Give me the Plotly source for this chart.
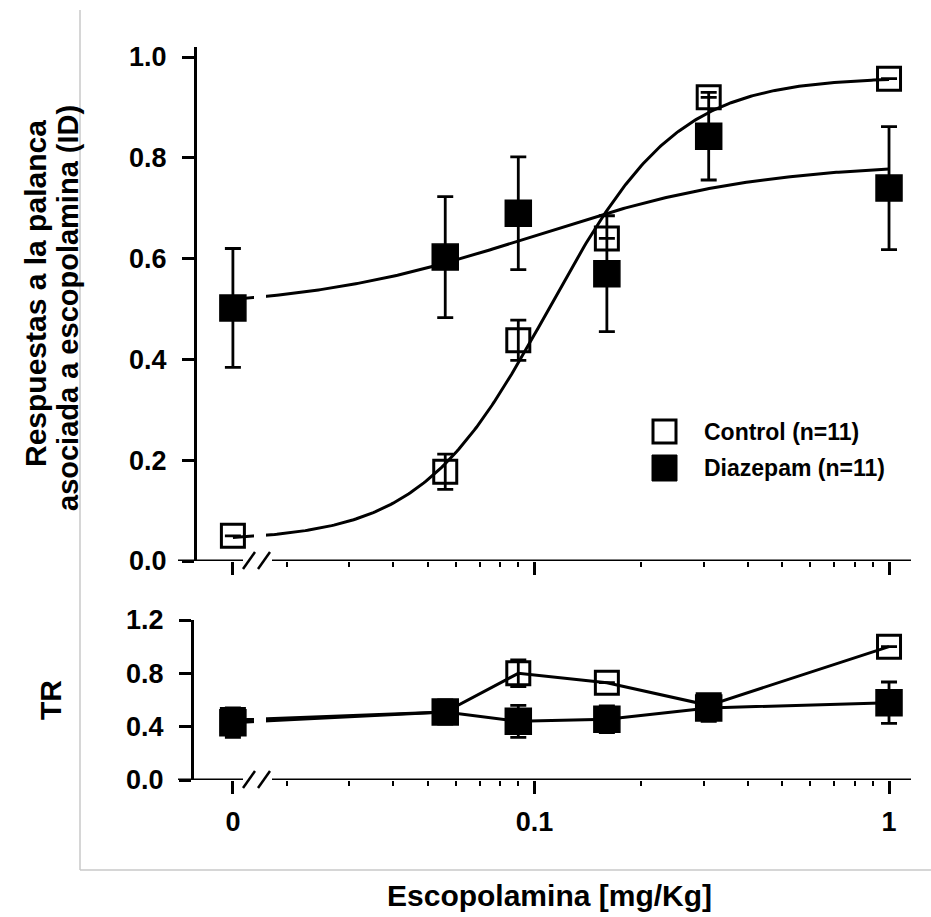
import numpy as np
import plotly.graph_objects as go

# ---------------- data ----------------
doses = [0, 0.056, 0.09, 0.16, 0.31, 1.0]          # mg/Kg
zero_pos = 0.0141                                   # where the "0" dose sits on the log axis

ctrl_id = [0.05, 0.177, 0.438, 0.64, 0.92, 0.957]
ctrl_id_err = [0.0, 0.035, 0.04, 0.0, 0.0, 0.0]
diaz_id = [0.502, 0.603, 0.69, 0.57, 0.843, 0.74]
diaz_id_err = [0.118, 0.12, 0.112, 0.115, 0.087, 0.122]

ctrl_tr = [0.45, 0.51, 0.80, 0.73, 0.56, 1.0]
ctrl_tr_err = [0.0, 0.0, 0.10, 0.0, 0.0, 0.0]
diaz_tr = [0.43, 0.51, 0.44, 0.455, 0.54, 0.58]
diaz_tr_err = [0.11, 0.09, 0.12, 0.1, 0.1, 0.155]

# four-parameter logistic fits (bottom, top, logEC50, hill)
ctrl_fit = (0.04, 0.96, -0.96, 2.4)
diaz_fit = (0.50, 0.79, -1.002, 1.357)

x_tickvals = [zero_pos, 0.1, 1]
x_ticktext = ["0", "0.1", "1"]
x_minor = [0.02, 0.03, 0.04, 0.05, 0.06, 0.07, 0.08, 0.09,
           0.2, 0.3, 0.4, 0.5, 0.6, 0.7, 0.8, 0.9]

names = ["Control (n=11)", "Diazepam (n=11)"]

# ---------------- geometry helpers ----------------
W, H = 931, 917
ML, MR, MT, MB = 180, 20, 47, 137
PW, PH = W - ML - MR, H - MT - MB


def px(xp):
    return (xp - ML) / PW


def py(yp):
    return (H - MB - yp) / PH


xplot = [zero_pos if d == 0 else d for d in doses]


def logistic(p, x):
    b, t, lec, h = p
    return b + (t - b) / (1 + 10 ** ((lec - np.log10(x)) * h))


xc = np.logspace(np.log10(zero_pos), 0, 300)

fig = go.Figure()
font_fam = "Liberation Sans, Arial, sans-serif"
LW = 3
OPEN = dict(symbol="square-open", size=23, color="black", line=dict(width=3, color="black"))
FILL = dict(symbol="square", size=26, color="black", line=dict(width=1.5, color="black"))


def err(arr):
    return dict(type="data", array=arr, color="black", thickness=2.8, width=8)


for p in (ctrl_fit, diaz_fit):
    fig.add_trace(go.Scatter(x=xc, y=logistic(p, xc), mode="lines",
                             line=dict(color="black", width=LW),
                             xaxis="x", yaxis="y", showlegend=False, hoverinfo="skip"))

fig.add_trace(go.Scatter(x=xplot, y=ctrl_id, mode="markers", name=names[0],
                         marker=OPEN, error_y=err(ctrl_id_err),
                         xaxis="x", yaxis="y", showlegend=False))
fig.add_trace(go.Scatter(x=xplot, y=diaz_id, mode="markers", name=names[1],
                         marker=FILL, error_y=err(diaz_id_err),
                         xaxis="x", yaxis="y", showlegend=False))

fig.add_trace(go.Scatter(x=xplot, y=ctrl_tr, mode="lines+markers", name=names[0],
                         line=dict(color="black", width=LW),
                         marker=OPEN, error_y=err(ctrl_tr_err),
                         xaxis="x2", yaxis="y2", showlegend=False))
fig.add_trace(go.Scatter(x=xplot, y=diaz_tr, mode="lines+markers", name=names[1],
                         line=dict(color="black", width=LW),
                         marker=FILL, error_y=err(diaz_tr_err),
                         xaxis="x2", yaxis="y2", showlegend=False))

tickfont = dict(family=font_fam, size=27, color="black", weight="bold")
xrange = [-2.0, 0.062]

common_x = dict(type="log", range=xrange, tickmode="array", tickvals=x_tickvals,
                ticktext=x_ticktext, ticks="outside", ticklen=13, tickwidth=3,
                tickcolor="black", showline=False, showgrid=False, zeroline=False,
                minor=dict(tickmode="array", tickvals=x_minor, ticks="outside",
                           ticklen=5, tickwidth=2, tickcolor="black", showgrid=False),
                tickfont=tickfont)

common_y = dict(ticks="outside", ticklen=12, tickwidth=3, tickcolor="black",
                showline=True, linewidth=3, linecolor="black", showgrid=False,
                zeroline=False, tickfont=tickfont, tickformat=".1f", anchor="free",
                ticklabelstandoff=10)

top_bottom = py(561)
fig.update_layout(
    width=W, height=H,
    margin=dict(l=ML, r=MR, t=MT, b=MB),
    paper_bgcolor="white", plot_bgcolor="white",
    showlegend=False,
    xaxis=dict(common_x, anchor="y", domain=[0, 1], showticklabels=False),
    yaxis=dict(common_y, domain=[top_bottom, 1], range=[0, (561 - 47) / 504],
               tickvals=[0, 0.2, 0.4, 0.6, 0.8, 1.0], position=px(195)),
    xaxis2=dict(common_x, anchor="y2", domain=[0, 1], ticklabelstandoff=5),
    yaxis2=dict(common_y, domain=[0, py(620)], range=[0, 1.2],
                tickvals=[0, 0.4, 0.8, 1.2], position=px(192)),
)

shapes = []
# white gap for the axis break in the data area
for (y0, y1) in [(top_bottom, 1), (0, py(620))]:
    shapes.append(dict(type="rect", xref="paper", yref="paper",
                       x0=px(254), x1=px(266), y0=y0, y1=y1,
                       fillcolor="white", line=dict(width=0), layer="above"))
# broken x axis lines + slashes
for (yr, ypix) in [("y", 561), ("y2", 780)]:
    for (a, b) in [(178, 243), (272, 911)]:
        shapes.append(dict(type="line", xref="paper", yref=yr, x0=px(a), x1=px(b),
                           y0=0, y1=0, line=dict(color="black", width=3), layer="above"))
    for x0 in (243, 258):
        shapes.append(dict(type="line", xref="paper", yref="paper",
                           x0=px(x0), x1=px(x0 + 12), y0=py(ypix + 8), y1=py(ypix - 9),
                           line=dict(color="black", width=2.5), layer="above"))
# legend symbols
shapes.append(dict(type="rect", xref="paper", yref="paper",
                   x0=px(653), x1=px(676), y0=py(443), y1=py(420),
                   line=dict(color="black", width=3), fillcolor="white", layer="above"))
shapes.append(dict(type="rect", xref="paper", yref="paper",
                   x0=px(652), x1=px(677), y0=py(481), y1=py(455),
                   line=dict(color="black", width=1), fillcolor="black", layer="above"))
# light gray frame (left + bottom)
shapes.append(dict(type="line", xref="paper", yref="paper", x0=px(80), x1=px(80),
                   y0=py(10), y1=py(870), line=dict(color="#c8c8c8", width=1.5)))
shapes.append(dict(type="line", xref="paper", yref="paper", x0=px(80), x1=px(931),
                   y0=py(870), y1=py(870), line=dict(color="#c8c8c8", width=1.5)))
fig.update_layout(shapes=shapes)

tfont = dict(family=font_fam, size=30, color="black", weight="bold")
tfont2 = dict(family=font_fam, size=29, color="black", weight="bold")
lfont = dict(family=font_fam, size=23, color="black", weight="bold")
ann = [
    dict(text="Respuestas a la palanca", x=px(35), y=py(294), textangle=-90, font=tfont),
    dict(text="asociada a escopolamina (ID)", x=px(68), y=py(308), textangle=-90, font=tfont2),
    dict(text="TR", x=px(50), y=py(700), textangle=-90, font=tfont),
    dict(text="Escopolamina [mg/Kg]", x=px(549), y=py(895), font=tfont),
]
for a in ann:
    a.update(xref="paper", yref="paper", showarrow=False, xanchor="center", yanchor="middle")
legend_ann = [
    dict(text=names[0], x=px(702), y=py(432)),
    dict(text=names[1], x=px(702), y=py(468)),
]
for a in legend_ann:
    a.update(xref="paper", yref="paper", showarrow=False, xanchor="left",
             yanchor="middle", font=lfont)
fig.update_layout(annotations=ann + legend_ann)

fig.write_html("out.html", config={"displayModeBar": False})

# remove the browser's default page margin so the figure sits at the window origin
with open("out.html", "r", encoding="utf-8") as f:
    html = f.read()
html = html.replace("<body>", '<body style="margin:0;padding:0;">', 1)
with open("out.html", "w", encoding="utf-8") as f:
    f.write(html)
